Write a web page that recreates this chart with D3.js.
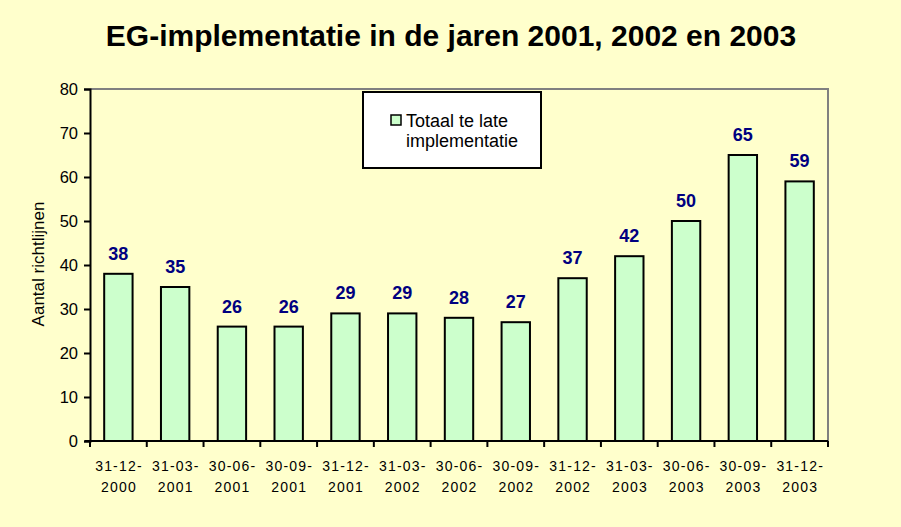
<!DOCTYPE html>
<html><head><meta charset="utf-8">
<script src="https://cdn.jsdelivr.net/npm/d3@7"></script>
<style>body{margin:0;background:#FFFFCC;}svg{display:block;font-family:"Liberation Sans",Arial,sans-serif;}</style>
</head><body>
<svg id="c" width="901" height="527"></svg>
<script>
const categories = [["31-12-","2000"],["31-03-","2001"],["30-06-","2001"],["30-09-","2001"],["31-12-","2001"],["31-03-","2002"],["30-06-","2002"],["30-09-","2002"],["31-12-","2002"],["31-03-","2003"],["30-06-","2003"],["30-09-","2003"],["31-12-","2003"]];
const values = [38,35,26,26,29,29,28,27,37,42,50,65,59];
const yTicks = [0,10,20,30,40,50,60,70,80];
const title = "EG-implementatie in de jaren 2001, 2002 en 2003";
const yLabel = "Aantal richtlijnen";
const legendLabel = ["Totaal te late","implementatie"];

const svg = d3.select("#c");
svg.append("rect").attr("width",901).attr("height",527).attr("fill","#FFFFCC");
const L=90,R=828,T=89,B=441;
const x = d3.scaleBand().domain(d3.range(values.length)).range([L,R]).paddingInner(0.5).paddingOuter(0.25);
const y = d3.scaleLinear().domain([0,80]).range([B,T]);

svg.append("path").attr("d",`M${L},${T}H${R}V${B}`).attr("fill","none").attr("stroke","#808080").attr("stroke-width",2);

svg.append("text").attr("x",451).attr("y",46).attr("text-anchor","middle").attr("font-size",30).attr("font-weight","bold").text(title);

svg.selectAll("rect.bar").data(values).join("rect").attr("class","bar")
  .attr("x",(d,i)=>x(i)).attr("width",x.bandwidth()).attr("y",d=>y(d)).attr("height",d=>B-y(d))
  .attr("fill","#CCFFCC").attr("stroke","#000").attr("stroke-width",2);

svg.selectAll("text.val").data(values).join("text").attr("class","val")
  .attr("x",(d,i)=>x(i)+x.bandwidth()/2).attr("y",d=>y(d)-14).attr("text-anchor","middle")
  .attr("font-size",18).attr("font-weight","bold").attr("fill","#000080").text(d=>d);

const ya = svg.append("g").attr("transform",`translate(${L},0)`).call(d3.axisLeft(y).tickValues(yTicks).tickSize(6).tickPadding(6));
ya.select(".domain").attr("stroke","#000").attr("stroke-width",2);
ya.selectAll(".tick line").attr("stroke","#000").attr("stroke-width",2);
ya.selectAll(".tick text").attr("font-size",16.5).attr("fill","#000").attr("font-family","Liberation Sans, Arial, sans-serif");

const step = (R-L)/values.length;
const xa = svg.append("g").attr("transform",`translate(0,${B})`);
xa.append("line").attr("x1",L-5).attr("x2",R).attr("stroke","#000").attr("stroke-width",2);
xa.selectAll("line.t").data(d3.range(values.length+1)).join("line").attr("class","t")
  .attr("x1",i=>L+i*step).attr("x2",i=>L+i*step).attr("y1",0).attr("y2",6).attr("stroke","#000").attr("stroke-width",2);
const xl = xa.selectAll("text.xl").data(categories).join("text").attr("class","xl")
  .attr("x",(d,i)=>x(i)+x.bandwidth()/2).attr("y",30).attr("text-anchor","middle").attr("font-size",14).attr("letter-spacing",1.2);
xl.append("tspan").attr("x",(d,i)=>x(i)+x.bandwidth()/2+0.6).text(d=>d[0]);
xl.append("tspan").attr("x",(d,i)=>x(i)+x.bandwidth()/2+0.6).attr("dy",21).text(d=>d[1]);

svg.append("text").attr("transform","translate(44,264) rotate(-90)").attr("text-anchor","middle").attr("font-size",17).text(yLabel);

const lg = svg.append("g");
lg.append("rect").attr("x",363).attr("y",92).attr("width",178).attr("height",76).attr("fill","#fff").attr("stroke","#000").attr("stroke-width",2);
lg.append("rect").attr("x",391).attr("y",115).attr("width",10).attr("height",10).attr("fill","#CCFFCC").attr("stroke","#000").attr("stroke-width",1.5);
lg.append("text").attr("x",406).attr("y",127).attr("font-size",18).text(legendLabel[0]);
lg.append("text").attr("x",406).attr("y",147).attr("font-size",18).text(legendLabel[1]);
</script>
</body></html>
